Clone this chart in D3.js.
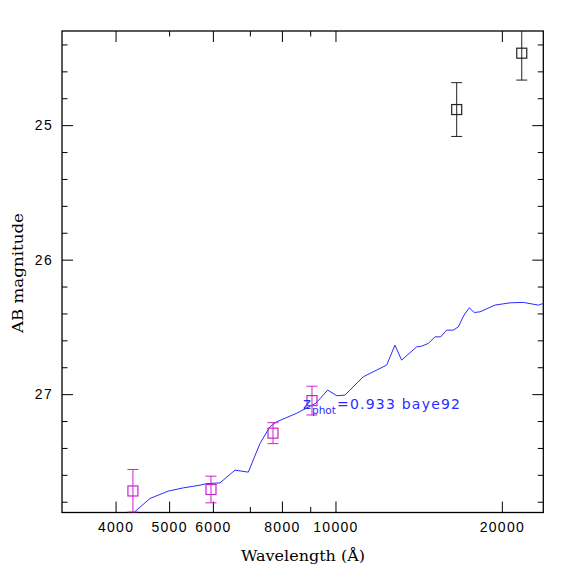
<!DOCTYPE html>
<html>
<head>
<meta charset="utf-8">
<script src="https://cdn.jsdelivr.net/npm/d3@7"></script>
<style>
  html, body { margin: 0; padding: 0; background: #fff; }
</style>
</head>
<body>
<div id="sed_plot"></div>
<script>
// photometry: optical bands (magenta) and near-IR bands (black)
const optWave = [4300, 5953, 7708, 9067];
const optMag = [27.72, 27.709, 27.29, 27.048];
const optErr = [0.16, 0.099, 0.078, 0.107];

const nirWave = [16570, 21730];
const nirMag = [24.884, 24.465];
const nirErr = [0.2, 0.2];

// best-fit template (baye92) at z_phot = 0.933
const specWave = [4290, 4616, 4981, 5303, 5686, 5847, 6180, 6579, 6954, 7301, 7608, 7825,
  8518, 9219, 9681, 10063, 10404, 11227, 12377, 12811, 13173, 14028, 14322, 14723, 15137,
  15500, 15893, 16334, 16680, 17080, 17463, 17829, 18256, 19437, 20697, 21878, 23282, 23770, 24500];
const specMag = [27.89, 27.776, 27.721, 27.697, 27.677, 27.665, 27.66, 27.565, 27.58, 27.367,
  27.243, 27.206, 27.141, 27.067, 26.97, 27.012, 27.007, 26.871, 26.784, 26.636, 26.747, 26.648,
  26.643, 26.623, 26.574, 26.574, 26.524, 26.524, 26.5, 26.413, 26.358, 26.393, 26.388, 26.338,
  26.321, 26.318, 26.338, 26.326, 26.32];

const xMajor = [4000, 5000, 6000, 8000, 10000, 20000];
const xMinor = [7000, 9000];
const xTopMajor = [4000, 6000, 8000, 10000, 20000];
const xTopMinor = [5000, 7000, 9000];
const yMajor = [25, 26, 27];
const yMinor = [24.4, 24.6, 24.8, 25.2, 25.4, 25.6, 25.8, 26.2, 26.4, 26.6, 26.8, 27.2, 27.4, 27.6, 27.8];

const width = 574;
const height = 574;
const plotLeft = 62, plotRight = 543.3, plotTop = 31, plotBottom = 512.5;
const tickFont = '14px "Liberation Sans", Arial, sans-serif';
const labelFont = '"DejaVu Serif", serif';
const magenta = '#cc22cc';
const blue = '#2b2bff';
const bigTick = 11;
const smallTick = 5.5;

const xScale = d3.scaleLog()
  .domain([3200, 23770])
  .range([plotLeft, plotRight]);

const yScale = d3.scaleLinear()
  .domain([24.3, 27.88])
  .range([plotTop, plotBottom]);

const svg = d3.select('#sed_plot')
  .append('svg')
    .attr('width', width)
    .attr('height', height);

svg.append('defs').append('clipPath')
  .attr('id', 'plot-clip')
  .append('rect')
    .attr('x', plotLeft)
    .attr('y', plotTop)
    .attr('width', plotRight - plotLeft)
    .attr('height', plotBottom - plotTop);

// axes: ticks point into the frame, labels on bottom and left only
function styleAxis(sel) {
  sel.select('.domain').remove();
  sel.selectAll('.tick line').attr('stroke', '#000').attr('stroke-width', 1);
  sel.selectAll('.tick text')
    .style('font', tickFont)
    .style('letter-spacing', '1.3px')
    .attr('fill', '#000');
}

svg.append('g')
  .attr('transform', `translate(0,${plotBottom})`)
  .call(d3.axisBottom(xScale).tickValues(xMajor).tickFormat(d3.format('d'))
    .tickSizeInner(-bigTick).tickSizeOuter(0).tickPadding(9.5))
  .call(styleAxis);

svg.append('g')
  .attr('transform', `translate(0,${plotBottom})`)
  .call(d3.axisBottom(xScale).tickValues(xMinor).tickFormat('')
    .tickSizeInner(-smallTick).tickSizeOuter(0))
  .call(styleAxis);

svg.append('g')
  .attr('transform', `translate(0,${plotTop})`)
  .call(d3.axisTop(xScale).tickValues(xTopMajor).tickFormat('')
    .tickSizeInner(-bigTick).tickSizeOuter(0))
  .call(styleAxis);

svg.append('g')
  .attr('transform', `translate(0,${plotTop})`)
  .call(d3.axisTop(xScale).tickValues(xTopMinor).tickFormat('')
    .tickSizeInner(-smallTick).tickSizeOuter(0))
  .call(styleAxis);

svg.append('g')
  .attr('transform', `translate(${plotLeft},0)`)
  .call(d3.axisLeft(yScale).tickValues(yMajor).tickFormat(d3.format('d'))
    .tickSizeInner(-bigTick).tickSizeOuter(0).tickPadding(9))
  .call(styleAxis);

svg.append('g')
  .attr('transform', `translate(${plotLeft},0)`)
  .call(d3.axisLeft(yScale).tickValues(yMinor).tickFormat('')
    .tickSizeInner(-smallTick).tickSizeOuter(0))
  .call(styleAxis);

svg.append('g')
  .attr('transform', `translate(${plotRight},0)`)
  .call(d3.axisRight(yScale).tickValues(yMajor).tickFormat('')
    .tickSizeInner(-bigTick).tickSizeOuter(0))
  .call(styleAxis);

svg.append('g')
  .attr('transform', `translate(${plotRight},0)`)
  .call(d3.axisRight(yScale).tickValues(yMinor).tickFormat('')
    .tickSizeInner(-smallTick).tickSizeOuter(0))
  .call(styleAxis);

svg.append('rect')
  .attr('x', plotLeft)
  .attr('y', plotTop)
  .attr('width', plotRight - plotLeft)
  .attr('height', plotBottom - plotTop)
  .attr('fill', 'none')
  .attr('stroke', '#000')
  .attr('stroke-width', 1.3);

// axis titles
svg.append('text')
  .attr('x', 241)
  .attr('y', 561)
  .attr('textLength', 124)
  .attr('lengthAdjust', 'spacingAndGlyphs')
  .style('font-family', labelFont)
  .style('font-size', '15px')
  .attr('fill', '#000')
  .text('Wavelength (Å)');

svg.append('text')
  .attr('transform', 'translate(23,333) rotate(-90)')
  .attr('textLength', 120)
  .attr('lengthAdjust', 'spacingAndGlyphs')
  .style('font-family', labelFont)
  .style('font-size', '15px')
  .attr('fill', '#000')
  .text('AB magnitude');

const plot = svg.append('g').attr('clip-path', 'url(#plot-clip)');

// template spectrum
const line = d3.line()
  .x((d, i) => xScale(specWave[i]))
  .y(d => yScale(d));

plot.append('path')
  .datum(specMag)
  .attr('d', line)
  .attr('fill', 'none')
  .attr('stroke', blue)
  .attr('stroke-width', 1);

// photometric points with error bars
function drawPoints(waves, mags, errs, color) {
  const pts = plot.selectAll(null)
    .data(waves)
    .join('g')
      .attr('transform', (d, i) => `translate(${xScale(d)},0)`);

  pts.append('line')
    .attr('x1', 0).attr('x2', 0)
    .attr('y1', (d, i) => yScale(mags[i] - errs[i]))
    .attr('y2', (d, i) => yScale(mags[i] + errs[i]))
    .attr('stroke', color);

  pts.append('line')
    .attr('x1', -5.5).attr('x2', 5.5)
    .attr('y1', (d, i) => yScale(mags[i] - errs[i]))
    .attr('y2', (d, i) => yScale(mags[i] - errs[i]))
    .attr('stroke', color);

  pts.append('line')
    .attr('x1', -5.5).attr('x2', 5.5)
    .attr('y1', (d, i) => Math.min(yScale(mags[i] + errs[i]), plotBottom - 0.5))
    .attr('y2', (d, i) => Math.min(yScale(mags[i] + errs[i]), plotBottom - 0.5))
    .attr('stroke', color);

  pts.append('rect')
    .attr('x', -5)
    .attr('y', (d, i) => yScale(mags[i]) - 5)
    .attr('width', 10)
    .attr('height', 10)
    .attr('fill', 'none')
    .attr('stroke', color)
    .attr('stroke-width', 1.2);
}

drawPoints(optWave, optMag, optErr, magenta);
drawPoints(nirWave, nirMag, nirErr, '#222');

// fit annotation
const note = svg.append('g').attr('fill', blue).style('font-family', '"DejaVu Sans", sans-serif');
note.append('text').attr('x', 303).attr('y', 409).style('font-size', '15px').text('z');
note.append('text').attr('x', 312).attr('y', 414).style('font-size', '10.5px').text('phot');
note.append('text')
  .attr('x', 337)
  .attr('y', 409)
  .attr('textLength', 123)
  .attr('lengthAdjust', 'spacing')
  .style('font-size', '14px')
  .text('=0.933 baye92');
</script>
</body>
</html>
